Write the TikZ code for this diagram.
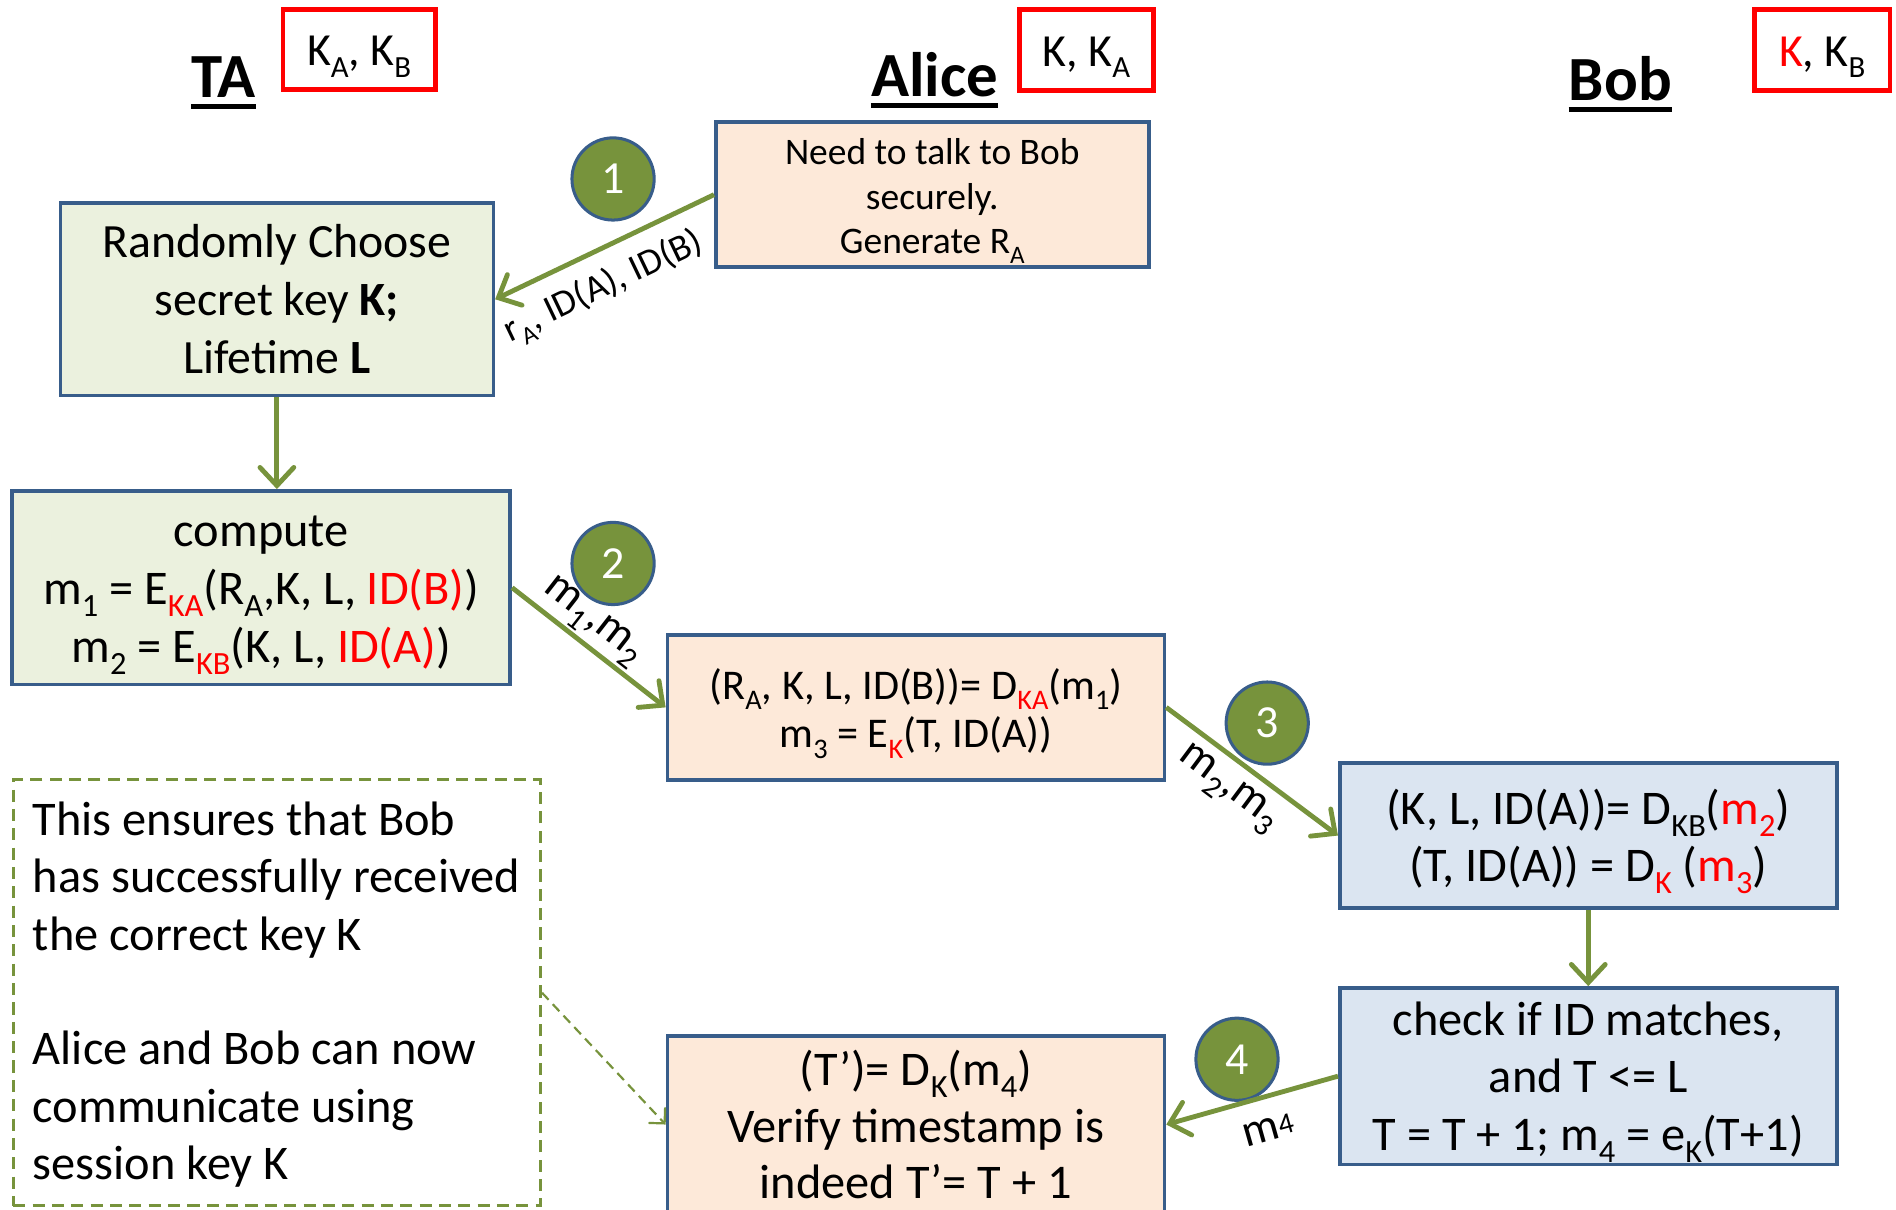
\documentclass[tikz,border=0pt]{standalone}
\usepackage{fontspec}
\setmainfont{Carlito}
\usepackage{graphicx}
\usetikzlibrary{arrows.meta,calc}
\definecolor{olive}{HTML}{77933C}
\definecolor{frame}{HTML}{385D8A}
\definecolor{peach}{HTML}{FDE9D9}
\definecolor{sage}{HTML}{EBF1DE}
\definecolor{sky}{HTML}{DBE5F1}
% lowered, reduced subscript in text
\newcommand\ssb[1]{\raisebox{-0.25em}{\scalebox{0.67}{#1}}}
\newcommand\redtxt[1]{\textcolor{red}{#1}}
\newcommand\fs[2]{\fontsize{#1}{#2}\selectfont}
\begin{document}
\begin{tikzpicture}[x=1pt,y=-1pt,
  box/.style={draw=frame, line width=3pt, inner sep=0pt},
  boxtext/.style={align=center, inner sep=0pt},
  keybox/.style={draw=red, line width=4pt, inner sep=0pt, text depth=0pt,
    font=\fs{38}{42}},
  heading/.style={anchor=base, inner sep=0pt, font=\fs{52}{60}\bfseries},
  badge/.style={circle, fill=olive, draw=frame, line width=2.5pt,
    minimum size=68pt, inner sep=0pt, text=white, font=\fs{38}{42}},
  conn/.style={draw=olive, line width=4pt,
    -{Straight Barb[length=15pt,width=28pt,line cap=round]}},
  lbl/.style={font=\fs{38}{44}, sloped},
]
\useasboundingbox (0,0) rectangle (1568,1000);

% party headings with their keys
\node[heading] (ta) at (185,80.5) {TA};
\node[heading] (alice) at (773,80) {Alice};
\node[heading] (bob) at (1340,83) {Bob};
\foreach \h in {ta,alice,bob}
  \draw[line width=4pt] ([yshift=-7.5pt]\h.base west) -- ([yshift=-7.5pt]\h.base east);

\node[keybox, minimum width=126pt, minimum height=66pt] (kta) at (297,41) {\raisebox{-2pt}{K\ssb{A}, K\ssb{B}}};
\node[keybox, minimum width=111pt, minimum height=67pt] (kalice) at (898.5,41.5) {\raisebox{-2pt}{K, K\ssb{A}}};
\node[keybox, minimum width=112pt, minimum height=67pt] (kbob) at (1507,41.5) {\raisebox{-2pt}{\redtxt{K}, K\ssb{B}}};

% protocol steps: frames, then their texts
\node[box, fill=peach, minimum width=358pt, minimum height=120pt] (a1) at (771,161) {};
\node[box, fill=sage, minimum width=358pt, minimum height=159pt] (t1) at (229,247.5) {};
\node[box, fill=sage, minimum width=412pt, minimum height=160pt] (t2) at (216,486) {};
\node[box, fill=peach, minimum width=411pt, minimum height=120pt] (a2) at (757.5,585) {};
\node[box, fill=sky, minimum width=411pt, minimum height=120pt] (b1) at (1313.5,691) {};
\node[box, fill=sky, minimum width=411pt, minimum height=146pt] (b2) at (1313.5,890) {};
\node[box, fill=peach, minimum width=411pt, minimum height=146pt] (a3) at (757.5,930) {};

\node[boxtext, font=\fs{31}{37}] (a1text) at ([yshift=-5pt]a1.center)
  {Need to talk to Bob\\securely.\\Generate R\ssb{A}};
\node[boxtext, font=\fs{39.5}{48}] (t1text) at (t1.center)
  {Randomly Choose\\secret key \textbf{K;}\\Lifetime \textbf{L}};
\node[boxtext, font=\fs{40}{48}] (t2text) at ([yshift=-6pt]t2.center)
  {compute\\m\ssb{1} = E\ssb{\redtxt{KA}}(R\ssb{A},K, L, \redtxt{ID(B)})\\m\ssb{2} = E\ssb{\redtxt{KB}}(K, L, \redtxt{ID(A)})};
\node[boxtext, font=\fs{35}{40}] (a2text) at ([yshift=-5pt]a2.center)
  {(R\ssb{A}, K, L, ID(B))= D\ssb{\redtxt{KA}}(m\ssb{1})\\m\ssb{3} = E\ssb{\redtxt{K}}(T, ID(A))};
\node[boxtext, font=\fs{40}{47}] (b1text) at ([yshift=-5pt]b1.center)
  {(K, L, ID(A))= D\ssb{KB}(\redtxt{m\ssb{2}})\\(T, ID(A)) = D\ssb{\redtxt{K}} (\redtxt{m\ssb{3}})};
\node[boxtext, font=\fs{40}{47.5}] (b2text) at ([yshift=-5pt]b2.center)
  {check if ID matches,\\and T <= L\\T = T + 1; m\ssb{4} = e\ssb{K}(T+1)};
\node[boxtext, font=\fs{40}{46.5}] (a3text) at (a3.center)
  {(T’)= D\ssb{K}(m\ssb{4})\\Verify timestamp is\\indeed T’= T + 1};

% side note
\node[draw=olive, line width=2.5pt, dash pattern=on 10pt off 6pt,
  minimum width=436pt, minimum height=352pt, inner sep=0pt] (note) at (229,821) {};
\node[anchor=west, align=left, inner sep=0pt, font=\fs{40}{47.5}] (notetext) at (27,822.5)
  {This ensures that Bob\\has successfully received\\the correct key K\\\mbox{}\\Alice and Bob can now\\communicate using\\session key K};

% step numbers
\node[badge] (n1) at (507,148) {1};
\node[badge] (n2) at (507,466) {2};
\node[badge] (n3) at (1048,598) {3};
\node[badge] (n4) at (1023,876) {4};

% messages
\draw[conn] (a1.west) -- (t1.east)
  node[lbl, pos=0.575, anchor=north, inner sep=13pt, font=\fs{31}{36}] (l1) {r\ssb{A}, ID(A), ID(B)};
\draw[conn] (t1.south) -- (t1.south |- t2.north);
\draw[conn] (t2.east) -- (a2.west)
  node[lbl, pos=0.433, anchor=south, inner sep=2pt] (l2) {m\ssb{1},m\ssb{2}};
\draw[conn] (a2.east) -- (b1.west)
  node[lbl, pos=0.458, anchor=north, inner sep=8pt] (l3) {m\ssb{2},m\ssb{3}};
\draw[conn] (b1.south) -- (b2.north);
\draw[conn] (b2.west) -- (a3.east)
  node[lbl, pos=0.457, anchor=north, inner sep=16pt] (l4) {m\raisebox{0.05em}{\scalebox{0.65}{4}}};
\draw[draw=olive, line width=1.8pt, dash pattern=on 8pt off 5pt,
  -{Straight Barb[length=9pt,width=18pt,line cap=round]}] (note.east) -- (a3.west);
\end{tikzpicture}
\end{document}
